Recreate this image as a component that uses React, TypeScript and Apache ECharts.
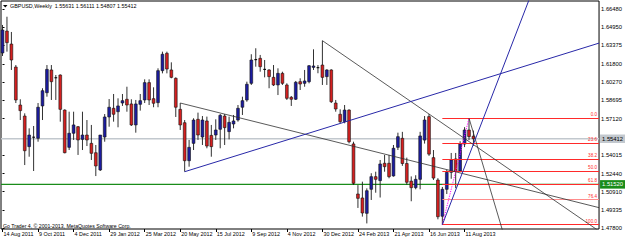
import React, { useEffect, useRef } from "react";
import * as echarts from "echarts";

// Weekly GBPUSD bars, index 0 = week of 14 Aug 2011
const opens = [
  1.6273, 1.6460, 1.6349, 1.6153, 1.5829, 1.5735, 1.5474, 1.5553, 1.5545, 1.5821,
  1.5934, 1.6128, 1.6063, 1.6085, 1.5786, 1.5468, 1.5588, 1.5644, 1.5536, 1.5573,
  1.5502, 1.5422, 1.5275, 1.5556, 1.5727, 1.5801, 1.5772, 1.5846, 1.5878, 1.5838,
  1.5659, 1.5835, 1.5872, 1.6020, 1.5883, 1.5849, 1.6122, 1.6270, 1.6128, 1.6057,
  1.5792, 1.5678, 1.5354, 1.5502, 1.5707, 1.5556, 1.5693, 1.5570, 1.5573, 1.5622,
  1.5735, 1.5602, 1.5667, 1.5701, 1.5810, 1.5872, 1.6014, 1.6213, 1.6227, 1.6136,
  1.6128, 1.6065, 1.6000, 1.6099, 1.6000, 1.5895, 1.5878, 1.6028, 1.6014, 1.6028,
  1.6150, 1.6150, 1.6170, 1.6071, 1.6128, 1.5846, 1.5750, 1.5687, 1.5786, 1.5497,
  1.5070, 1.5036, 1.4905, 1.5110, 1.5218, 1.5184, 1.5332, 1.5332, 1.5224, 1.5468,
  1.5545, 1.5330, 1.5180, 1.5124, 1.5195, 1.5530, 1.5730, 1.5380, 1.5189, 1.4880,
  1.5110, 1.5255, 1.5369, 1.5266, 1.5496, 1.5616, 1.55631,
];
const highs = [
  1.6512, 1.6582, 1.6452, 1.6170, 1.5878, 1.5758, 1.5630, 1.5650, 1.5846, 1.5972,
  1.6170, 1.6170, 1.6085, 1.6090, 1.5792, 1.5772, 1.5772, 1.5650, 1.5772, 1.5701,
  1.5659, 1.5488, 1.5573, 1.5752, 1.5880, 1.5923, 1.5886, 1.5923, 1.5985, 1.5878,
  1.5872, 1.5923, 1.6048, 1.6048, 1.5980, 1.6142, 1.6284, 1.6284, 1.6193, 1.6065,
  1.5846, 1.5701, 1.5531, 1.5716, 1.5764, 1.5735, 1.5730, 1.5659, 1.5707, 1.5752,
  1.5752, 1.5730, 1.5744, 1.5829, 1.5900, 1.6028, 1.6262, 1.6313, 1.6256, 1.6213,
  1.6134, 1.6170, 1.6142, 1.6113, 1.6014, 1.5906, 1.6034, 1.6057, 1.6128, 1.6170,
  1.6304, 1.6170, 1.6378, 1.6134, 1.6134, 1.5872, 1.5792, 1.5829, 1.5792, 1.5516,
  1.5146, 1.5175, 1.5118, 1.5247, 1.5260, 1.5360, 1.5403, 1.5403, 1.5488, 1.5593,
  1.5600, 1.5380, 1.5220, 1.5230, 1.5600, 1.5735, 1.5752, 1.5445, 1.5205, 1.5130,
  1.5275, 1.5420, 1.5420, 1.5520, 1.5640, 1.5717, 1.56111,
];
const lows = [
  1.6247, 1.6284, 1.6128, 1.5846, 1.5701, 1.5317, 1.5388, 1.5266, 1.5516, 1.5701,
  1.5900, 1.5872, 1.5872, 1.5687, 1.5417, 1.5445, 1.5531, 1.5403, 1.5445, 1.5479,
  1.5360, 1.5223, 1.5266, 1.5516, 1.5644, 1.5687, 1.5639, 1.5821, 1.5772, 1.5650,
  1.5593, 1.5781, 1.5846, 1.5829, 1.5810, 1.5810, 1.6099, 1.6099, 1.6057, 1.5727,
  1.5616, 1.5260, 1.5303, 1.5445, 1.5531, 1.5488, 1.5460, 1.5388, 1.5531, 1.5460,
  1.5488, 1.5536, 1.5630, 1.5687, 1.5744, 1.5857, 1.6000, 1.6156, 1.6113, 1.6065,
  1.5972, 1.5991, 1.5914, 1.6000, 1.5872, 1.5821, 1.5872, 1.5957, 1.5985, 1.6014,
  1.6128, 1.6100, 1.6000, 1.6000, 1.5846, 1.5772, 1.5673, 1.5673, 1.5502, 1.5147,
  1.4951, 1.4877, 1.4819, 1.5019, 1.5081, 1.5040, 1.5260, 1.5204, 1.5218, 1.5445,
  1.5310, 1.5150, 1.5008, 1.5110, 1.5110, 1.5500, 1.5395, 1.5190, 1.4854, 1.4808,
  1.5070, 1.5200, 1.5120, 1.5260, 1.5470, 1.5530, 1.54807,
];
const closes = [
  1.6469, 1.6361, 1.6213, 1.5872, 1.5781, 1.5439, 1.5573, 1.5556, 1.5810, 1.5951,
  1.6133, 1.6028, 1.6060, 1.5792, 1.5422, 1.5588, 1.5659, 1.5531, 1.5573, 1.5531,
  1.5417, 1.5309, 1.5573, 1.5727, 1.5810, 1.5750, 1.5821, 1.5866, 1.5829, 1.5659,
  1.5838, 1.5866, 1.6020, 1.5872, 1.5844, 1.6122, 1.6262, 1.6136, 1.6065, 1.5810,
  1.5659, 1.5354, 1.5468, 1.5701, 1.5573, 1.5701, 1.5479, 1.5474, 1.5616, 1.5741,
  1.5636, 1.5681, 1.5693, 1.5801, 1.5866, 1.6006, 1.6213, 1.6219, 1.6156, 1.6130,
  1.6071, 1.6000, 1.6099, 1.6014, 1.5886, 1.5878, 1.6023, 1.6008, 1.6034, 1.6164,
  1.6162, 1.6145, 1.6065, 1.6128, 1.5857, 1.5795, 1.5687, 1.5786, 1.5516, 1.5161,
  1.5033, 1.4908, 1.5098, 1.5218, 1.5195, 1.5326, 1.5303, 1.5218, 1.5460, 1.5559,
  1.5330, 1.5170, 1.5124, 1.5195, 1.5565, 1.5701, 1.5410, 1.5206, 1.4876, 1.5110,
  1.5255, 1.5360, 1.5266, 1.5496, 1.5616, 1.5560, 1.55412,
];

const symbolTitle = "GBPUSD,Weekly";
const copyrightText = "Go Trader 4, © 2001-2013, MetaQuotes Software Corp.";

const xTickIndices = [0, 8, 16, 24, 32, 40, 48, 56, 64, 72, 80, 88, 96, 104];
const xTickLabels = [
  "14 Aug 2011", "9 Oct 2011", "4 Dec 2011", "29 Jan 2012", "25 Mar 2012",
  "20 May 2012", "15 Jul 2012", "9 Sep 2012", "4 Nov 2012", "30 Dec 2012",
  "24 Feb 2013", "21 Apr 2013", "16 Jun 2013", "11 Aug 2013",
];
const yTickValues = [
  1.6648, 1.6495, 1.63375, 1.618, 1.6027, 1.58695, 1.5712,
  1.54015, 1.5244, 1.5091, 1.49335, 1.478,
];

const horizontalLevel = 1.5152;

// trend lines: two anchor points [barIndex, price], drawn as rays to the right
const blackTrendA = [[40, 1.5846], [100, 1.5278]];
const blackTrendB = [[72, 1.6378], [96, 1.5752]];
const blackTrendC = [[105, 1.5717], [112.4, 1.4777]];
const blueTrendA = [[41, 1.526], [100, 1.5954]];
const blueTrendB = [[99, 1.4808], [118.5, 1.6725]];

// fibonacci retracement from low (bar 99) to high (bar 105)
const fibLowBar = 99;
const fibHighBar = 105;
const fibLevels = [0, 23.6, 38.2, 50, 61.8, 76.4, 100];

const X_MIN = -0.34;
const X_MAX = 134.27;
const Y_MIN = 1.47714;
const Y_MAX = 1.67162;

const FONT = "Liberation Sans, Arial, sans-serif";

function ray(pts: number[][]) {
  const [[x1, y1], [x2, y2]] = pts;
  const slope = (y2 - y1) / (x2 - x1);
  return [
    [x1, y1],
    [X_MAX, y1 + slope * (X_MAX - x1)],
  ];
}

function levelSeries(price: number, color: string, width: number, textColor: string, z: number) {
  return {
    type: "line",
    data: [
      [X_MIN, price],
      [X_MAX, price],
    ],
    showSymbol: false,
    symbol: "none",
    silent: true,
    clip: false,
    z,
    color,
    lineStyle: { color, width, type: "solid" },
    endLabel: {
      show: true,
      distance: 1,
      formatter: () => price.toFixed(5),
      backgroundColor: color,
      color: textColor,
      padding: [1.5, 2, 1, 2],
      fontSize: 5.8,
      fontFamily: FONT,
    },
  };
}

export default function App() {
  const ref = useRef<HTMLDivElement>(null);

  useEffect(() => {
    if (!ref.current) return;
    const chart = echarts.init(ref.current, undefined, { renderer: "svg" });

    const candleData = opens.map((o, i) => [i, o, closes[i], lows[i], highs[i]]);
    const last = opens.length - 1;
    const currentPrice = closes[last];
    const fibHigh = highs[fibHighBar];
    const fibLow = lows[fibLowBar];

    const trendSeries = (pts: number[][], color: string, width: number) => ({
      type: "line",
      data: ray(pts),
      showSymbol: false,
      symbol: "none",
      clip: true,
      silent: true,
      z: 5,
      lineStyle: { color, width },
    });

    const option: any = {
      animation: false,
      backgroundColor: "#ffffff",
      grid: {
        left: 1,
        top: 1,
        right: 25,
        bottom: 12,
        show: true,
        borderColor: "#000000",
        borderWidth: 1,
        backgroundColor: "#ffffff",
      },
      xAxis: {
        type: "value",
        min: X_MIN,
        max: X_MAX,
        axisLine: { show: false },
        splitLine: { show: false },
        axisTick: {
          show: true,
          customValues: xTickIndices,
          length: 3,
          lineStyle: { color: "#000" },
        },
        axisLabel: {
          show: true,
          customValues: xTickIndices,
          formatter: (v: number) => {
            const k = xTickIndices.indexOf(Math.round(v));
            return k >= 0 ? xTickLabels[k] : "";
          },
          align: "left",
          margin: 2,
          fontSize: 5.4,
          fontFamily: FONT,
          color: "#000",
          padding: [0, 0, 0, 1],
        },
      },
      yAxis: {
        type: "value",
        position: "right",
        min: Y_MIN,
        max: Y_MAX,
        scale: true,
        axisLine: { show: false },
        splitLine: { show: false },
        axisTick: {
          show: true,
          customValues: yTickValues,
          length: 2,
          lineStyle: { color: "#000" },
        },
        axisLabel: {
          show: true,
          customValues: yTickValues,
          formatter: (v: number) => v.toFixed(5),
          margin: 2,
          fontSize: 5.8,
          fontFamily: FONT,
          color: "#000",
        },
      },
      graphic: [
        {
          type: "polygon",
          shape: { points: [[3, 5], [7.5, 5], [5.25, 7.6]] },
          style: { fill: "#000" },
        },
        {
          type: "text",
          x: 10,
          y: 3,
          style: {
            text: `${symbolTitle}  ${opens[last].toFixed(5)} ${highs[last].toFixed(5)} ${lows[last].toFixed(5)} ${closes[last].toFixed(5)}`,
            fontSize: 5.4,
            fontFamily: FONT,
            fill: "#000",
          },
        },
        {
          type: "text",
          x: 3,
          y: 223,
          style: {
            text: copyrightText,
            fontSize: 5.2,
            fontFamily: FONT,
            fill: "#000",
          },
        },
      ],
      series: [
        levelSeries(currentPrice, "#c2c8ce", 1.6, "#000", 1),
        levelSeries(horizontalLevel, "#1a8c1a", 1.3, "#fff", 2),
        {
          type: "custom",
          z: 3,
          silent: true,
          data: candleData,
          encode: { x: 0, y: [1, 2, 3, 4] },
          renderItem: (params: any, api: any) => {
            const x = api.value(0);
            const o = api.value(1);
            const c = api.value(2);
            const l = api.value(3);
            const h = api.value(4);
            const pO = api.coord([x, o]);
            const pC = api.coord([x, c]);
            const pH = api.coord([x, h]);
            const pL = api.coord([x, l]);
            const w = api.size([1, 0])[0] * 0.62;
            const up = c >= o;
            const bodyH = Math.abs(pO[1] - pC[1]);
            const top = Math.min(pO[1], pC[1]);
            const children: any[] = [
              {
                type: "line",
                shape: { x1: pH[0], y1: pH[1], x2: pL[0], y2: pL[1] },
                style: { stroke: "#1a1a1a", lineWidth: 0.9 },
              },
            ];
            if (bodyH < 1.1) {
              children.push({
                type: "line",
                shape: { x1: pO[0] - w / 2, y1: (pO[1] + pC[1]) / 2, x2: pO[0] + w / 2, y2: (pO[1] + pC[1]) / 2 },
                style: { stroke: "#000", lineWidth: 1.1 },
              });
            } else {
              children.push({
                type: "rect",
                shape: { x: pO[0] - w / 2, y: top, width: w, height: bodyH },
                style: { fill: up ? "#1c1ca0" : "#d42020", stroke: "#101010", lineWidth: 0.6 },
              });
            }
            return { type: "group", children };
          },
        },
        {
          type: "line",
          data: [],
          silent: true,
          z: 4,
          markLine: {
            silent: true,
            symbol: ["none", "none"],
            animation: false,
            lineStyle: { color: "#ff2a2a", width: 1, type: "solid" },
            data: fibLevels.map((lv) => {
              const price = fibHigh - ((fibHigh - fibLow) * lv) / 100;
              const color = lv === 76.4 ? "#ff8c8c" : "#ff2a2a";
              return [
                {
                  coord: [fibLowBar, price],
                  lineStyle: { color, width: 1, type: "solid" },
                  label: {
                    show: true,
                    position: "insideEndTop",
                    distance: [2, 1],
                    formatter: () => lv.toFixed(1),
                    color: "#ff2a2a",
                    fontSize: 4.6,
                    fontFamily: FONT,
                  },
                },
                { coord: [X_MAX, price] },
              ];
            }),
          },
        },
        {
          type: "line",
          data: [
            [fibLowBar, fibLow],
            [fibHighBar, fibHigh],
          ],
          showSymbol: false,
          symbol: "none",
          silent: true,
          z: 4,
          lineStyle: { color: "#ff00ff", width: 1, type: [1.2, 1.2] },
        },
        trendSeries(blackTrendA, "#303030", 0.8),
        trendSeries(blackTrendB, "#303030", 0.8),
        trendSeries(blackTrendC, "#303030", 0.8),
        trendSeries(blueTrendA, "#2828a8", 1),
        trendSeries(blueTrendB, "#2828a8", 1),
      ],
    };

    chart.setOption(option);
    return () => chart.dispose();
  }, []);

  return (
    <div
      ref={ref}
      style={{ position: "fixed", left: 0, top: 0, width: 625, height: 241, background: "#fff" }}
    />
  );
}
